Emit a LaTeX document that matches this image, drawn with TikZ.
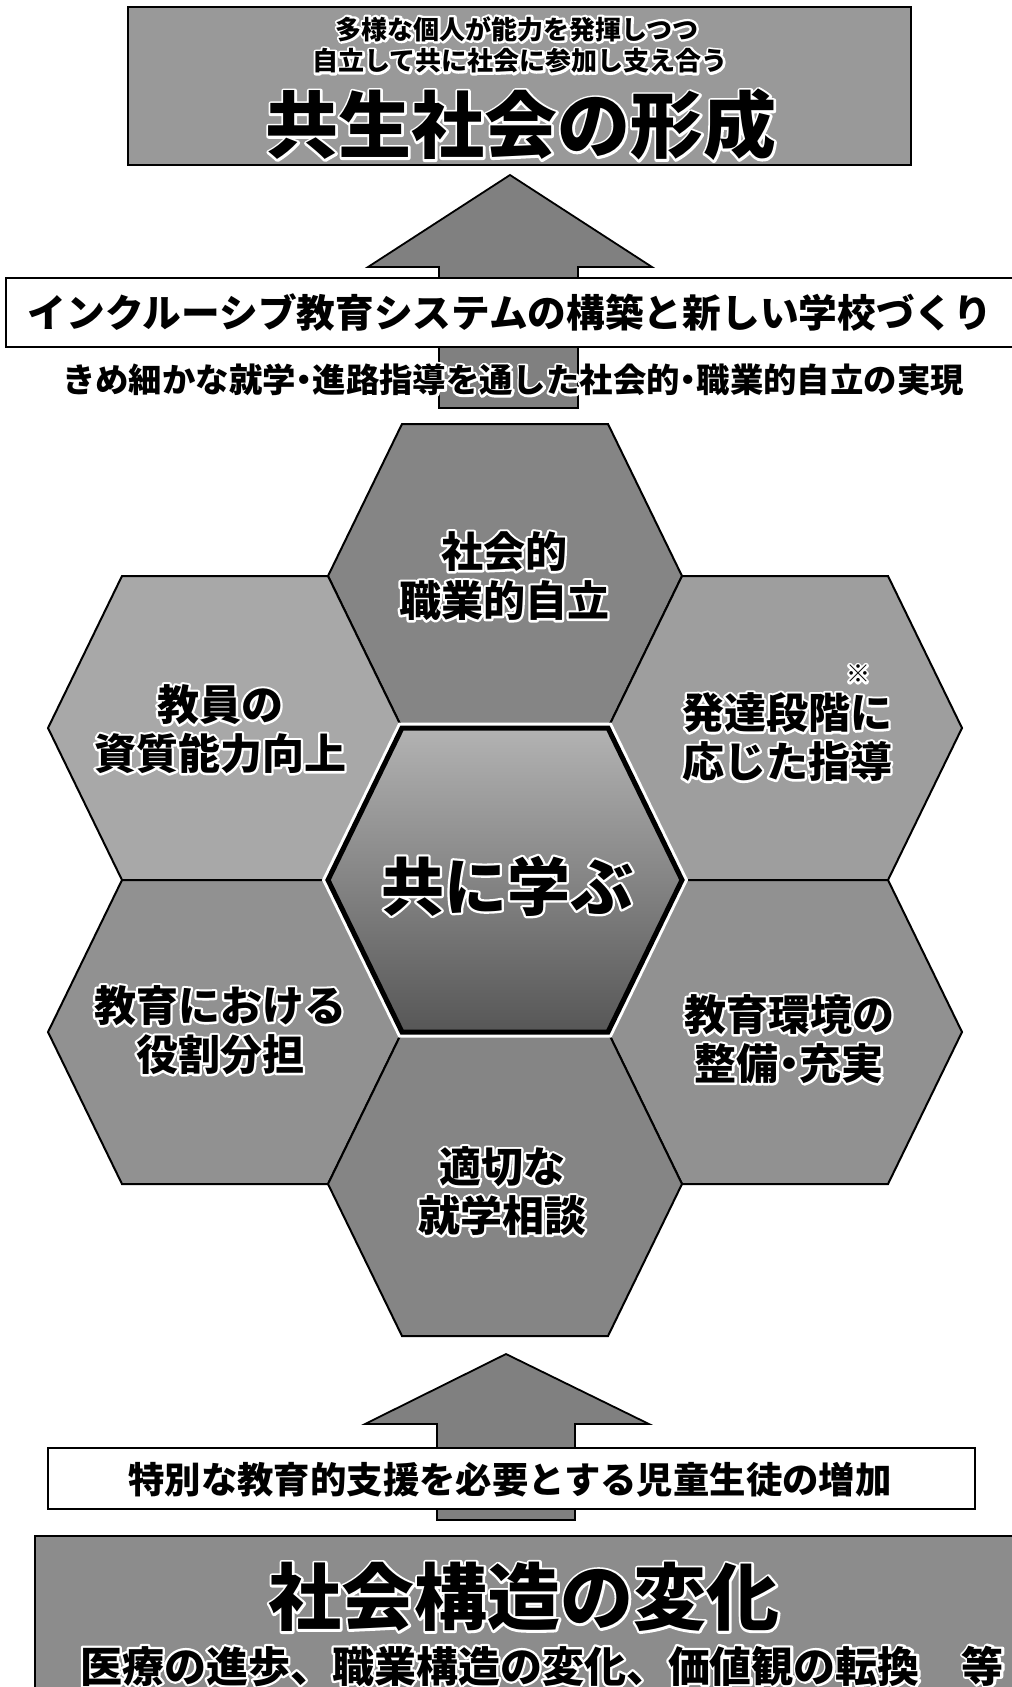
\documentclass[tikz,border=0pt]{standalone}
\usepackage{fontspec}
\setmainfont{Noto Sans CJK JP}
\newcommand\nak{\makebox[0.5em][c]{・}}
\newcommand\hl[1]{\leavevmode\rlap{\textcolor{white}{\special{pdf:literal direct 1 Tr 4.6 w 1 j}#1\special{pdf:literal direct 0 Tr}}}#1}
\newcommand\hexat[3]{\path[shift={(#1,#2)},#3] (-177,0) -- (-103,-152) -- (103,-152) -- (177,0) -- (103,152) -- (-103,152) -- cycle;}
\tikzset{
  hexline/.style={draw=black, line width=2pt, line join=miter},
  arrowshape/.style={draw=black, line width=1.8pt, fill=black!50, line join=miter},
  whitebox/.style={draw=black, line width=1.6pt, fill=white},
  graybox/.style={draw=black, line width=2.2pt},
  lbl/.style={inner sep=0pt, font=\bfseries, align=center},
}
\begin{document}
\begin{tikzpicture}[x=1pt,y=-1pt]
\useasboundingbox (0,0) rectangle (1012,1687);
\fill[white] (0,0) rectangle (1012,1687);

% arrows
\draw[arrowshape] (439,408) -- (439,267) -- (368,267) -- (510,175) -- (652,267) -- (578,267) -- (578,408) -- cycle;
\draw[arrowshape] (437,1520) -- (437,1424) -- (365,1424) -- (506,1354) -- (649,1424) -- (575,1424) -- (575,1520) -- cycle;

% boxes
\draw[graybox, fill=black!40] (128,7) rectangle (911,165);
\draw[whitebox] (6,278) rectangle (1020,347);
\draw[whitebox] (48,1448) rectangle (975,1509);
\draw[graybox, fill=black!45] (35,1536) rectangle (1020,1700);

% hexagons
\hexat{505}{576}{hexline, fill=black!48}
\hexat{225}{728}{hexline, fill=black!34}
\hexat{785}{728}{hexline, fill=black!38}
\hexat{225}{1032}{hexline, fill=black!43}
\hexat{785}{1032}{hexline, fill=black!43}
\hexat{505}{1184}{hexline, fill=black!48}
\hexat{505}{880}{draw=white, line width=11pt, line join=miter}
\hexat{505}{880}{draw=black, line width=5pt, line join=miter, top color=black!30, bottom color=black!66}

% top box texts
\node[lbl, font=\bfseries\fontsize{26}{30}\selectfont] (t1) at (517,29) {\hl{多様な個人が能力を発揮しつつ}};
\node[lbl, font=\bfseries\fontsize{26}{30}\selectfont] (t2) at (520,61) {\hl{自立して共に社会に参加し支え合う}};
\node[lbl, font=\bfseries\fontsize{73}{80}\selectfont] (t3) at (521,125) {\hl{共生社会の形成}};

% white box 1 and subtitle
\node[lbl, font=\bfseries\fontsize{38.7}{42}\selectfont] (w1) at (510,312) {インクルーシブ教育システムの構築と新しい学校づくり};
\node[lbl, font=\bfseries\fontsize{33.4}{38}\selectfont] (sub) at (513,380) {\hl{きめ細かな就学\nak 進路指導を通した社会的\nak 職業的自立の実現}};

% hex texts
\node[lbl, font=\bfseries\fontsize{42}{49}\selectfont] (h1) at (504,576) {\hl{社会的}\\\hl{職業的自立}};
\node[lbl, font=\bfseries\fontsize{42}{49}\selectfont] (h2) at (220,729) {\hl{教員の}\\\hl{資質能力向上}};
\node[lbl, font=\bfseries\fontsize{42}{49}\selectfont] (h3) at (787,737) {\hl{発達段階に}\\\hl{応じた指導}};
\node[lbl, font=\bfseries\fontsize{24}{26}\selectfont] (h3s) at (858,674) {\hl{※}};
\node[lbl, font=\bfseries\fontsize{63}{70}\selectfont] (hc) at (507,886) {\hl{共に学ぶ}};
\node[lbl, font=\bfseries\fontsize{42}{49}\selectfont] (h4) at (220,1030) {\hl{教育における}\\\hl{役割分担}};
\node[lbl, font=\bfseries\fontsize{42}{49}\selectfont] (h5) at (789,1039) {\hl{教育環境の}\\\hl{整備\nak 充実}};
\node[lbl, font=\bfseries\fontsize{42}{49}\selectfont] (h6) at (502,1191) {\hl{適切な}\\\hl{就学相談}};

% bottom texts
\node[lbl, font=\bfseries\fontsize{36.4}{42}\selectfont] (w2) at (510,1480) {特別な教育的支援を必要とする児童生徒の増加};
\node[lbl, font=\bfseries\fontsize{73}{80}\selectfont] (b1) at (524,1597) {\hl{社会構造の変化}};
\node[lbl, font=\bfseries\fontsize{42}{48}\selectfont] (b2) at (542,1666) {\hl{医療の進歩、職業構造の変化、価値観の転換　等}};
\end{tikzpicture}
\end{document}
